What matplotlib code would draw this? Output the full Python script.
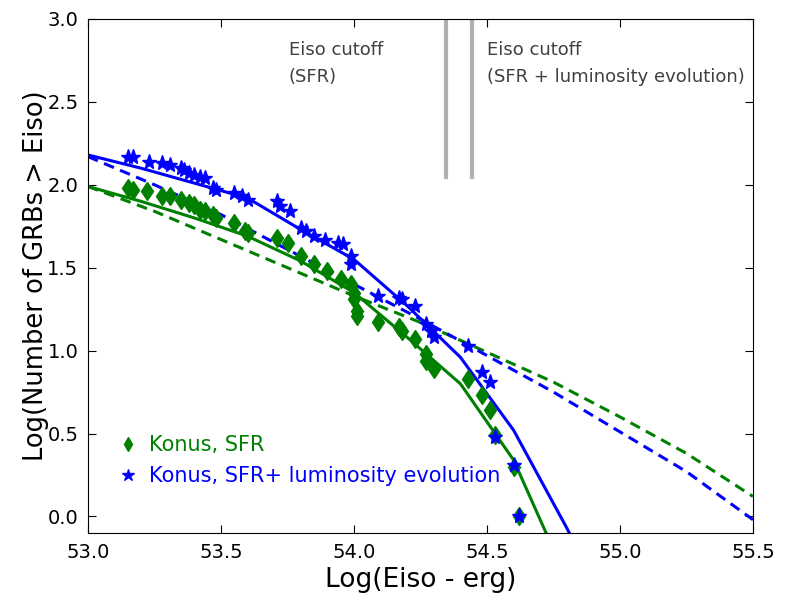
import matplotlib
matplotlib.use("Agg")
import matplotlib.pyplot as plt
import numpy as np

# Data points (Konus)
sfr_x = [53.15, 53.17, 53.22, 53.28, 53.31, 53.35, 53.38, 53.40, 53.42, 53.44, 53.47, 53.48,
         53.55, 53.59, 53.60, 53.71, 53.75, 53.80, 53.85, 53.90, 53.95, 53.99, 54.00, 54.00,
         54.01, 54.01, 54.09, 54.17, 54.18, 54.23, 54.27, 54.27, 54.30, 54.43, 54.48, 54.51,
         54.53, 54.60, 54.62]
sfr_y = [1.98, 1.97, 1.96, 1.93, 1.93, 1.91, 1.89, 1.88, 1.85, 1.84, 1.82, 1.80,
         1.77, 1.72, 1.71, 1.68, 1.65, 1.57, 1.52, 1.48, 1.43, 1.40, 1.35, 1.31,
         1.24, 1.21, 1.17, 1.14, 1.12, 1.07, 0.98, 0.94, 0.89, 0.83, 0.73, 0.64,
         0.49, 0.30, 0.00]

lum_x = [53.15, 53.17, 53.23, 53.28, 53.31, 53.35, 53.36, 53.38, 53.40, 53.42, 53.44, 53.47,
         53.48, 53.55, 53.58, 53.60, 53.71, 53.72, 53.76, 53.80, 53.82, 53.85, 53.89, 53.94,
         53.96, 53.99, 53.99, 54.09, 54.17, 54.18, 54.23, 54.27, 54.29, 54.30, 54.43, 54.48,
         54.51, 54.53, 54.60, 54.62]
lum_y = [2.17, 2.17, 2.14, 2.13, 2.12, 2.10, 2.09, 2.07, 2.06, 2.05, 2.04, 1.98,
         1.97, 1.95, 1.93, 1.91, 1.90, 1.87, 1.84, 1.74, 1.72, 1.69, 1.67, 1.65,
         1.64, 1.57, 1.52, 1.33, 1.32, 1.31, 1.27, 1.16, 1.12, 1.08, 1.03, 0.87,
         0.81, 0.48, 0.31, 0.00]

# Model curves
sfr_model_x = [53.0, 53.2, 53.4, 53.6, 53.8, 54.0, 54.2, 54.4, 54.6, 54.8]
sfr_model_y = [1.99, 1.90, 1.80, 1.69, 1.54, 1.35, 1.08, 0.80, 0.34, -0.38]

lum_model_x = [53.0, 53.2, 53.4, 53.6, 53.8, 54.0, 54.2, 54.4, 54.6, 54.8, 55.0]
lum_model_y = [2.18, 2.10, 2.01, 1.92, 1.73, 1.55, 1.27, 0.96, 0.52, -0.07, -0.7]

sfr_dash_x = [53.0, 53.25, 53.5, 53.75, 54.0, 54.25, 54.5, 54.75, 55.0, 55.25, 55.5]
sfr_dash_y = [1.99, 1.84, 1.67, 1.50, 1.33, 1.17, 0.99, 0.81, 0.60, 0.38, 0.12]

lum_dash_x = [53.0, 53.25, 53.5, 53.75, 54.0, 54.25, 54.5, 54.75, 55.0, 55.25, 55.5]
lum_dash_y = [2.17, 2.00, 1.82, 1.61, 1.40, 1.19, 0.97, 0.75, 0.51, 0.27, -0.02]

cutoff_x = [54.346, 54.444]
cutoff_labels = ["Eiso cutoff\n(SFR)", "Eiso cutoff\n(SFR + luminosity evolution)"]
cutoff_text_x = [53.755, 54.50]

green = "#008000"
blue = "#0000ff"

fig = plt.figure(figsize=(7.9, 5.93), dpi=100)
ax = fig.add_axes([88/790, 1-533/593, (753-88)/790, (533-19)/593])

ax.plot(sfr_model_x, sfr_model_y, "-", color=green, lw=2.2)
ax.plot(lum_model_x, lum_model_y, "-", color=blue, lw=2.2)
ax.plot(sfr_dash_x, sfr_dash_y, "--", color=green, lw=2.2, dashes=(3.5, 2.2))
ax.plot(lum_dash_x, lum_dash_y, "--", color=blue, lw=2.2, dashes=(3.5, 2.2))

ax.plot(sfr_x, sfr_y, "d", color=green, mec=green, ms=9.5, ls="none", label="Konus, SFR")
ax.plot(lum_x, lum_y, "*", color=blue, mec=blue, ms=11, ls="none",
        label="Konus, SFR+ luminosity evolution")

for cx in cutoff_x:
    ax.plot([cx, cx], [2.05, 3.0], color="#b0b0b0", lw=3)
for tx, lab in zip(cutoff_text_x, cutoff_labels):
    ax.text(tx, 2.867, lab, color="#404040", fontsize=13, va="top", ha="left", linespacing=1.65)

ax.set_xlim(53.0, 55.5)
ax.set_ylim(-0.1, 3.0)
ax.set_xticks([53.0, 53.5, 54.0, 54.5, 55.0, 55.5])
ax.set_yticks([0.0, 0.5, 1.0, 1.5, 2.0, 2.5, 3.0])
ax.tick_params(direction="in", top=True, right=True, labelsize=14, length=6, pad=7)
ax.set_xlabel("Log(Eiso - erg)", fontsize=19)
ax.set_ylabel("Log(Number of GRBs > Eiso)", fontsize=18.5)
ax.yaxis.set_label_coords(-0.058, 0.5)

leg = ax.legend(loc="upper left", bbox_to_anchor=(0.045, 0.191), frameon=False, fontsize=15,
                numpoints=1, handletextpad=0.5, handlelength=1.0, borderpad=0,
                borderaxespad=0, labelspacing=0.55, markerscale=0.8)
for t, c in zip(leg.get_texts(), [green, blue]):
    t.set_color(c)

fig.savefig("out.png", dpi=100)
